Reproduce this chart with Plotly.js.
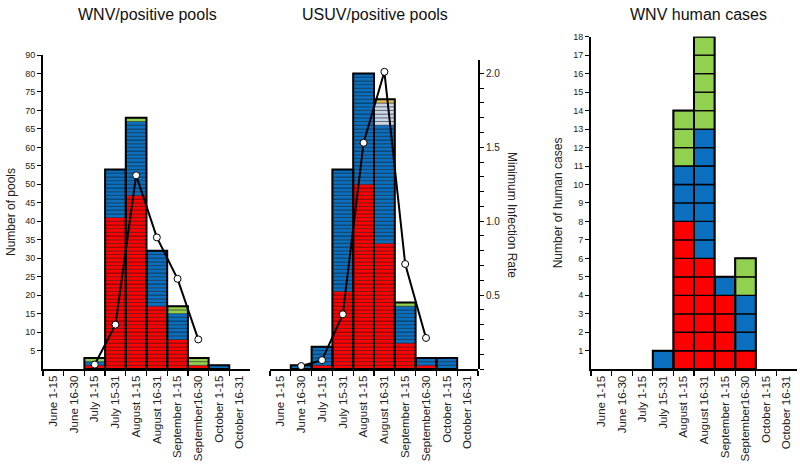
<!DOCTYPE html>
<html>
<head>
<meta charset="utf-8">
<script src="https://cdn.plot.ly/plotly-3.0.1.min.js"></script>
<style>html,body{margin:0;padding:0;background:#fff;}#chart{width:800px;height:470px;}</style>
</head>
<body>
<div id="chart"></div>
<script>
// ---- Data ----
const categories = ['June 1-15','June 16-30','July 1-15','July 15-31','August 1-15','August 16-31','September 1-15','September16-30','October 1-15','October 16-31'];

// WNV positive pools (stacked counts)
const wnvRed   = [0,0,1,41,47,17,8,1,0,0];
const wnvBlue  = [0,0,1,13,20,15,7,0,1,0];
const wnvGreen = [0,0,1,0,1,0,2,2,0,0];
const wnvMIR   = [null,null,0.03,0.30,1.31,0.89,0.61,0.20,null,null];

// USUV positive pools (stacked counts)
const usuvRed    = [0,0,1,21,50,34,7,1,0,0];
const usuvBlue   = [0,1,5,33,30,32,10,2,3,0];
const usuvLight  = [0,0,0,0,0,6,0,0,0,0];
const usuvYellow = [0,0,0,0,0,1,0,0,0,0];
const usuvGreen  = [0,0,0,0,0,0,1,0,0,0];
const usuvMIR    = [null,0.02,0.06,0.37,1.53,2.01,0.71,0.21,null,null];

// WNV human cases
const humRed   = [0,0,0,0,8,6,4,1,0,0];
const humBlue  = [0,0,0,1,3,7,1,3,0,0];
const humGreen = [0,0,0,0,3,5,0,2,0,0];

const poolTickVals = [5,10,15,20,25,30,35,40,45,50,55,60,65,70,75,80,85];
const poolTickText = ['5','10','15','20','25','30','35','40','45','50','55','60','65','70','75','80','90'];
const mirTickVals = [0.5,1.0,1.5,2.0];
const mirTickText = ['0.5','1.0','1.5','2.0'];
const humTickVals = [1,2,3,4,5,6,7,8,9,10,11,12,13,14,15,16,17,18];

// ---- Styles ----
const RED='#ff0000', BLUE='#0a6fbf', GREEN='#92d050', LIGHT='#c9d6e8', YELLOW='#e3c04c';

function unitTrace(counts, below, color, lineColor, lineW, xa, ya){
  const x=[], y=[], base=[];
  counts.forEach((c,i)=>{ for(let k=0;k<c;k++){ x.push(categories[i]); y.push(1); base.push(below[i]+k);} });
  return {type:'bar', x:x, y:y, base:base, width:1, xaxis:xa, yaxis:ya,
    marker:{color:color, line:{color:lineColor, width:lineW}}, hoverinfo:'skip', showlegend:false};
}
function stackGroup(seriesList, colors, lineColor, lineW, xa, ya, outlineW){
  const traces=[];
  let below = categories.map(()=>0);
  seriesList.forEach((s,j)=>{
    traces.push(unitTrace(s, below, colors[j], lineColor, lineW, xa, ya));
    below = below.map((b,i)=>b+s[i]);
  });
  traces.push({type:'bar', x:categories, y:below.map(v=>v>0?v:null), base:0, width:1, xaxis:xa, yaxis:ya,
    marker:{color:'rgba(0,0,0,0)', line:{color:'#000', width:outlineW}}, hoverinfo:'skip', showlegend:false});
  return traces;
}
function mirLine(vals, xa, ya){
  return {type:'scatter', mode:'lines+markers', x:categories, y:vals, xaxis:xa, yaxis:ya,
    line:{color:'#000', width:2}, marker:{color:'#fff', size:7, line:{color:'#000', width:1}},
    connectgaps:false, hoverinfo:'skip', showlegend:false};
}

const stripe='rgba(0,0,0,0.5)';
const data = [].concat(
  stackGroup([wnvRed, wnvBlue, wnvGreen], [RED, BLUE, GREEN], stripe, 0.8, 'x', 'y', 2),
  [mirLine(wnvMIR, 'x', 'y2')],
  stackGroup([usuvRed, usuvBlue, usuvLight, usuvYellow, usuvGreen], [RED, BLUE, LIGHT, YELLOW, GREEN], stripe, 0.8, 'x2', 'y3', 2),
  [mirLine(usuvMIR, 'x2', 'y4')],
  stackGroup([humRed, humBlue, humGreen], [RED, BLUE, GREEN], '#000', 1.3, 'x3', 'y5', 2)
);

// ---- Layout ----
const W=800, H=470;
const fx = p => p/W, fy = p => 1 - p/H;
const bottomPx = 369;
const poolTopPx = 55;
const pxPerMIR = (369-73.3)/2;
const tickFontX = {family:'Liberation Sans, Arial, sans-serif', size:11.5, color:'#222'};
const tickFontY = {family:'Liberation Sans, Arial, sans-serif', size:9, color:'#222'};

function xAxis(d0, d1, anchor){
  return {domain:[fx(d0), fx(d1)], anchor:anchor, type:'category', categoryarray:categories, categoryorder:'array',
    range:[-0.5, 9.5], tickson:'boundaries', ticks:'outside', ticklen:5, tickwidth:1.3, tickcolor:'#000',
    tickangle:-90, showline:true, linewidth:2, linecolor:'#000', showgrid:false, zeroline:false,
    tickfont:tickFontX, fixedrange:true};
}

const layout = {
  width:W, height:H, margin:{l:0,r:0,t:0,b:0}, paper_bgcolor:'#fff', plot_bgcolor:'rgba(0,0,0,0)',
  barmode:'overlay', bargap:0, showlegend:false,
  font:{family:'Liberation Sans, Arial, sans-serif', color:'#222'},
  xaxis: xAxis(43, 250, 'y'),
  yaxis: {domain:[fy(bottomPx), fy(poolTopPx)], anchor:'x', range:[0,85], tickvals:poolTickVals, ticktext:poolTickText,
    ticks:'outside', ticklen:4, tickwidth:1, tickcolor:'#000', showline:true, linewidth:2, linecolor:'#000',
    showgrid:false, zeroline:false, tickfont:tickFontY,
    title:{text:'Number of pools', font:{size:12, color:'#222'}, standoff:7}},
  yaxis2: {overlaying:'y', anchor:'x', range:[0, (bottomPx-poolTopPx)/pxPerMIR], visible:false},
  xaxis2: xAxis(270, 478, 'y3'),
  yaxis3: {domain:[fy(bottomPx), fy(poolTopPx)], anchor:'x2', range:[0,85], visible:false},
  yaxis4: {domain:[fy(bottomPx), fy(60)], anchor:'x2', side:'right', range:[0, (bottomPx-60)/pxPerMIR],
    tickvals:mirTickVals, ticktext:mirTickText, ticks:'outside', ticklen:4, tickwidth:1, tickcolor:'#000',
    minor:{dtick:0.1, tick0:0, ticks:'outside', ticklen:4, tickcolor:'#000', tickwidth:1},
    showline:true, linewidth:2, linecolor:'#000', showgrid:false, zeroline:false,
    tickfont:{family:'Liberation Sans, Arial, sans-serif', size:10, color:'#222'}},
  xaxis3: xAxis(591, 797, 'y5'),
  yaxis5: {domain:[fy(369.2), fy(36.7)], anchor:'x3', range:[0,18], tickvals:humTickVals,
    ticks:'outside', ticklen:4, tickwidth:1, tickcolor:'#000', showline:true, linewidth:2, linecolor:'#000',
    showgrid:false, zeroline:false, tickfont:tickFontY,
    title:{text:'Number of human cases', font:{size:12, color:'#222'}, standoff:8}},
  annotations:[
    {text:'WNV/positive pools', xref:'paper', yref:'paper', x:fx(147), y:fy(15), showarrow:false, xanchor:'center', yanchor:'middle', font:{size:16, color:'#111'}},
    {text:'USUV/positive pools', xref:'paper', yref:'paper', x:fx(375), y:fy(15), showarrow:false, xanchor:'center', yanchor:'middle', font:{size:16, color:'#111'}},
    {text:'WNV human cases', xref:'paper', yref:'paper', x:fx(698), y:fy(15), showarrow:false, xanchor:'center', yanchor:'middle', font:{size:16, color:'#111'}},
    {text:'Minimum Infection Rate', xref:'paper', yref:'paper', x:fx(512), y:fy(215), showarrow:false, textangle:90, xanchor:'center', yanchor:'middle', font:{size:12, color:'#222'}}
  ]
};

Plotly.newPlot('chart', data, layout, {staticPlot:true, displayModeBar:false});
</script>
</body>
</html>
